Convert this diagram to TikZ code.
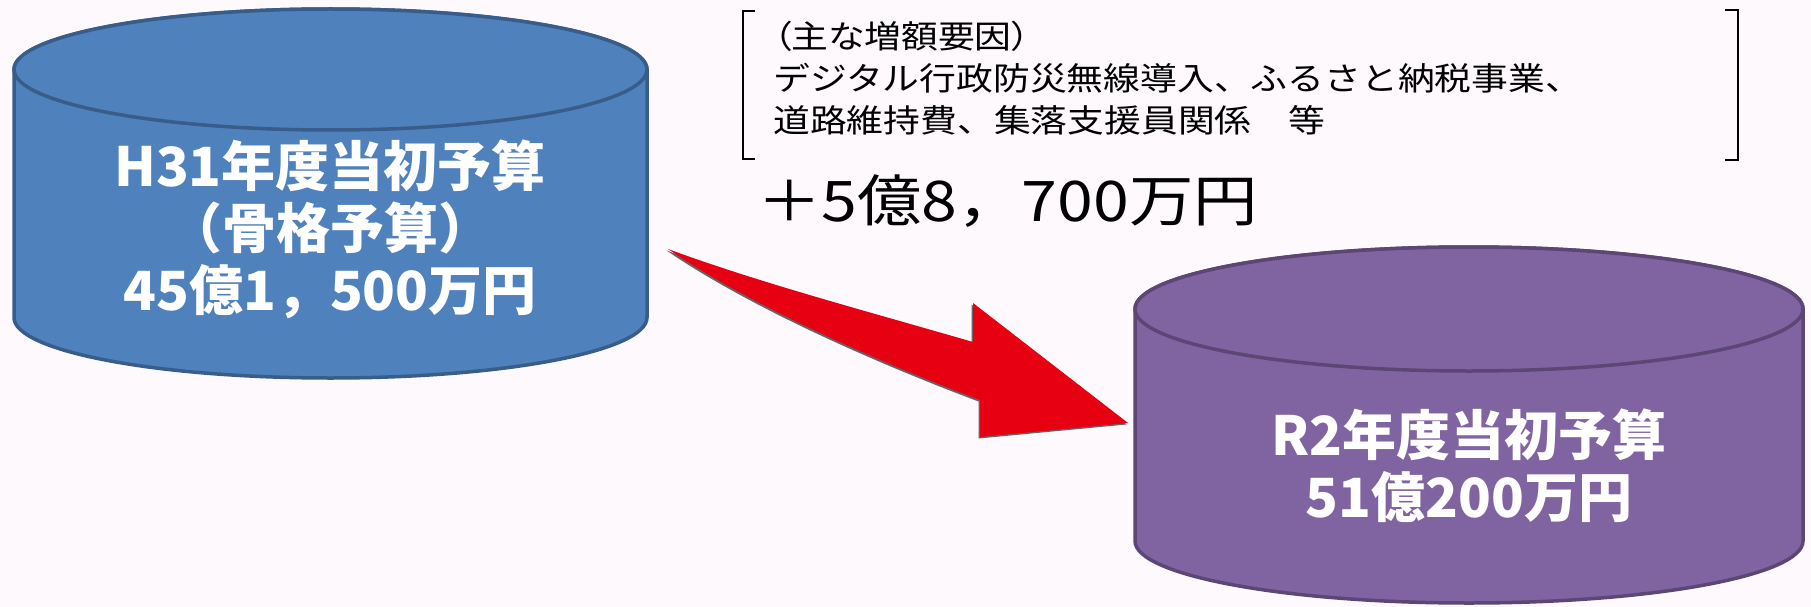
\documentclass[tikz,border=0pt]{standalone}
\usepackage{fontspec}
\newfontfamily\jp{Noto Sans CJK JP}
\newfontfamily\jpx[FakeStretch=1.15]{Noto Sans CJK JP}
\definecolor{bgc}{RGB}{253,249,253}
\definecolor{lfill}{RGB}{79,129,189}
\definecolor{ldraw}{RGB}{56,93,138}
\definecolor{rfill}{RGB}{128,100,162}
\definecolor{rdraw}{RGB}{92,70,118}
\definecolor{arrred}{RGB}{230,0,18}
\tikzset{
  lcyl/.style={fill=lfill,draw=ldraw,line width=3.5pt},
  rcyl/.style={fill=rfill,draw=rdraw,line width=3.5pt},
  cyltext/.style={inner sep=0pt,text=white,font=\jp\bfseries\fontsize{54}{60}\selectfont},
  facttext/.style={inner sep=0pt,anchor=west,text=black,font=\jpx\fontsize{32}{40}\selectfont},
  bigtext/.style={inner sep=0pt,anchor=west,text=black,font=\jpx\fontsize{56}{64}\selectfont},
  brk/.style={draw=black,line width=2pt}
}
\begin{document}
\begin{tikzpicture}[x=1pt,y=-1pt]
\fill[bgc] (0,0) rectangle (1811,607);
\useasboundingbox (0,0) rectangle (1811,607);
% left cylinder
\path[lcyl] (14,69.5) -- (14,317.5) arc[start angle=180,end angle=0,x radius=316.5,y radius=60.5]
  -- (647,69.5) arc[start angle=0,end angle=-180,x radius=316.5,y radius=60.5] -- cycle;
\path[lcyl] (330.5,69.5) ellipse[x radius=316.5,y radius=60.5];
% right cylinder
\path[rcyl] (1135,309) -- (1135,541) arc[start angle=180,end angle=0,x radius=334,y radius=62]
  -- (1803,309) arc[start angle=0,end angle=-180,x radius=334,y radius=62] -- cycle;
\path[rcyl] (1469,309) ellipse[x radius=334,y radius=62];
% texts in cylinders
\node[cyltext] (h1) at (330,166) {H31年度当初予算};
\node[cyltext] (h2) at (330,228) {（骨格予算）};
\node[cyltext] (h3) at (330,292) {45億1，500万円};
\node[cyltext] (r1) at (1469,435) {R2年度当初予算};
\node[cyltext] (r2) at (1469,497) {51億200万円};
% arrow
\coordinate (tail) at (668,249);
\coordinate (tip) at (1128,423);
\fill[black!75,opacity=0.8] (668-1.5,249+1.5) .. controls (760-1.5,283+1.5) and (870-1.5,312+1.5) .. (973-1.5,342+1.5)
  -- (973-1.5,303+1.5) -- (1128-1.5,423+1.5) -- (980-1.5,437+1.5) -- (980-1.5,400+1.5)
  .. controls (900-1.5,370+1.5) and (760-1.5,312+1.5) .. cycle;
\fill[arrred] (tail) .. controls (760,283) and (870,312) .. (973,342)
  -- (973,303) -- (tip) -- (980,437) -- (980,400)
  .. controls (900,370) and (760,312) .. (tail) -- cycle;
% bracket
\draw[brk] (755,11) -- (743,11) -- (743,159) -- (755,159);
\draw[brk] (1725,10) -- (1738,10) -- (1738,160) -- (1725,160);
\node[facttext] (f1) at (773,36) {\addfontfeatures{RawFeature=+palt}（主な増額要因）};
\node[facttext] (f2) at (773,78) {デジタル行政防災無線導入、ふるさと納税事業、};
\node[facttext] (f3) at (773,120) {道路維持費、集落支援員関係　等};
\node[bigtext] (diff) at (757,201) {＋5億8，700万円};
\end{tikzpicture}
\end{document}
